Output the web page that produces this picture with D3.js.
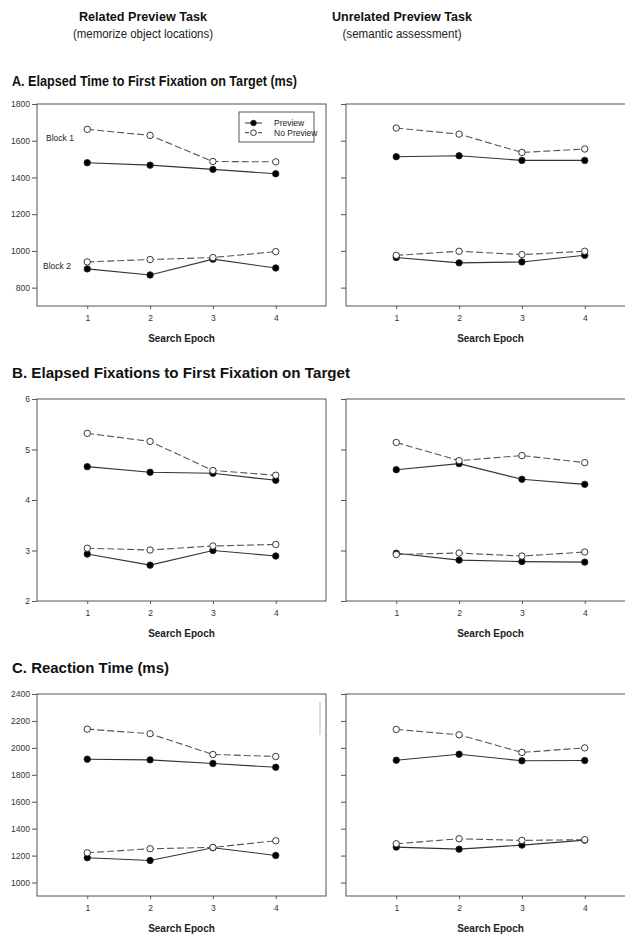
<!DOCTYPE html>
<html>
<head>
<meta charset="utf-8">
<script src="https://cdn.jsdelivr.net/npm/d3@7"></script>
<style>
  body { margin: 0; background: #fff; }
  svg { display: block; font-family: "Liberation Sans", Arial, sans-serif; }
</style>
</head>
<body>
<svg width="625" height="938"></svg>
<script>
const epochs = [1, 2, 3, 4];
const epochTicks = ["1", "2", "3", "4"];

const timeTicks = [800, 1000, 1200, 1400, 1600, 1800];
const fixTicks = [2, 3, 4, 5, 6];
const rtTicks = [1000, 1200, 1400, 1600, 1800, 2000, 2200, 2400];

// A. elapsed time to first fixation (ms)
const timeRelatedPreview1 = [1480, 1467, 1444, 1420];
const timeRelatedNoPreview1 = [1662, 1629, 1487, 1485];
const timeRelatedPreview2 = [902, 869, 955, 907];
const timeRelatedNoPreview2 = [940, 953, 964, 996];
const timeUnrelatedPreview1 = [1513, 1518, 1493, 1493];
const timeUnrelatedNoPreview1 = [1669, 1636, 1536, 1555];
const timeUnrelatedPreview2 = [964, 935, 940, 976];
const timeUnrelatedNoPreview2 = [976, 998, 980, 998];

// B. elapsed fixations
const fixRelatedPreview1 = [4.66, 4.55, 4.53, 4.39];
const fixRelatedNoPreview1 = [5.32, 5.16, 4.585, 4.49];
const fixRelatedPreview2 = [2.93, 2.71, 3.0, 2.89];
const fixRelatedNoPreview2 = [3.045, 3.01, 3.09, 3.12];
const fixUnrelatedPreview1 = [4.60, 4.72, 4.41, 4.31];
const fixUnrelatedNoPreview1 = [5.14, 4.78, 4.88, 4.74];
const fixUnrelatedPreview2 = [2.945, 2.81, 2.78, 2.77];
const fixUnrelatedNoPreview2 = [2.92, 2.95, 2.89, 2.97];

// C. reaction time (ms)
const rtRelatedPreview1 = [1916, 1911, 1884, 1856];
const rtRelatedNoPreview1 = [2139, 2105, 1951, 1936];
const rtRelatedPreview2 = [1184, 1164, 1258, 1201];
const rtRelatedNoPreview2 = [1221, 1251, 1261, 1310];
const rtUnrelatedPreview1 = [1908, 1953, 1904, 1906];
const rtUnrelatedNoPreview1 = [2137, 2097, 1966, 2000];
const rtUnrelatedPreview2 = [1263, 1248, 1278, 1315];
const rtUnrelatedNoPreview2 = [1288, 1325, 1313, 1318];

const svg = d3.select("svg");

const cols = [
  { left: 37, right: 326, labels: true },
  { left: 346, right: 635, labels: false }
];

const rows = [
  {
    title: "A. Elapsed Time to First Fixation on Target (ms)", titleWidth: 285, titleY: 86,
    top: 104, bottom: 306, domain: [700, 1800], ticks: timeTicks,
    series: [
      [timeRelatedPreview1, timeRelatedNoPreview1, timeRelatedPreview2, timeRelatedNoPreview2],
      [timeUnrelatedPreview1, timeUnrelatedNoPreview1, timeUnrelatedPreview2, timeUnrelatedNoPreview2]
    ]
  },
  {
    title: "B. Elapsed Fixations to First Fixation on Target", titleWidth: 338, titleY: 378,
    top: 399, bottom: 601, domain: [2, 6], ticks: fixTicks,
    series: [
      [fixRelatedPreview1, fixRelatedNoPreview1, fixRelatedPreview2, fixRelatedNoPreview2],
      [fixUnrelatedPreview1, fixUnrelatedNoPreview1, fixUnrelatedPreview2, fixUnrelatedNoPreview2]
    ]
  },
  {
    title: "C. Reaction Time (ms)", titleWidth: 157, titleY: 673,
    top: 694, bottom: 896, domain: [900, 2400], ticks: rtTicks,
    series: [
      [rtRelatedPreview1, rtRelatedNoPreview1, rtRelatedPreview2, rtRelatedNoPreview2],
      [rtUnrelatedPreview1, rtUnrelatedNoPreview1, rtUnrelatedPreview2, rtUnrelatedNoPreview2]
    ]
  }
];

// column headers
const headers = [
  { x: 143, title: "Related Preview Task", tw: 128, sub: "(memorize object locations)", sw: 140 },
  { x: 402, title: "Unrelated Preview Task", tw: 140, sub: "(semantic assessment)", sw: 119 }
];
headers.forEach((h) => {
  svg.append("text")
    .attr("x", h.x).attr("y", 21)
    .attr("text-anchor", "middle")
    .attr("font-size", 13.5).attr("font-weight", "bold").attr("fill", "#111")
    .attr("textLength", h.tw).attr("lengthAdjust", "spacingAndGlyphs")
    .text(h.title);
  svg.append("text")
    .attr("x", h.x).attr("y", 38)
    .attr("text-anchor", "middle")
    .attr("font-size", 12.5).attr("fill", "#222")
    .attr("textLength", h.sw).attr("lengthAdjust", "spacingAndGlyphs")
    .text(h.sub);
});

const drawPanel = (row, col, data, isFirst) => {
  const x = d3.scaleLinear().domain([0.2, 4.8]).range([col.left, col.right]);
  const y = d3.scaleLinear().domain(row.domain).range([row.bottom, row.top]);
  const g = svg.append("g");

  // frame
  g.append("rect")
    .attr("x", col.left).attr("y", row.top)
    .attr("width", col.right - col.left).attr("height", row.bottom - row.top)
    .attr("fill", "none").attr("stroke", "#555").attr("stroke-width", 1);

  const yAxis = d3.axisLeft(y)
    .tickValues(row.ticks)
    .tickSize(5).tickPadding(2)
    .tickFormat(col.labels ? d3.format("d") : () => "");
  const yg = g.append("g")
    .attr("transform", `translate(${col.left},0)`)
    .call(yAxis);
  yg.select(".domain").remove();
  yg.selectAll("line").attr("stroke", "#555");
  yg.selectAll("text").attr("font-size", 8.5).attr("fill", "#333").attr("font-family", null);

  const xAxis = d3.axisBottom(x)
    .tickValues(epochs)
    .tickSize(3).tickPadding(6)
    .tickFormat((d, i) => epochTicks[i]);
  const xg = g.append("g")
    .attr("transform", `translate(0,${row.bottom})`)
    .call(xAxis);
  xg.select(".domain").remove();
  xg.selectAll("line").attr("stroke", "#555");
  xg.selectAll("text").attr("font-size", 8.5).attr("fill", "#333").attr("font-family", null);

  g.append("text")
    .attr("x", x(2.5)).attr("y", row.bottom + 35.5)
    .attr("text-anchor", "middle")
    .attr("font-size", 10).attr("font-weight", "bold").attr("fill", "#222")
    .text("Search Epoch");

  const line = d3.line()
    .x((d, i) => x(epochs[i]))
    .y((d) => y(d));

  const styles = [
    { dash: null, fill: "#000" },
    { dash: "7,3", fill: "#fff" }
  ];

  // block 1 then block 2; preview drawn under no preview
  [0, 2].forEach((start) => {
    [0, 1].forEach((k) => {
      const values = data[start + k];
      const st = styles[k];
      g.append("path")
        .datum(values)
        .attr("d", line)
        .attr("fill", "none")
        .attr("stroke", k === 0 ? "#333" : "#555")
        .attr("stroke-width", 1.1)
        .attr("stroke-dasharray", st.dash);
      g.selectAll(null)
        .data(values)
        .enter().append("circle")
        .attr("cx", (d, i) => x(epochs[i]))
        .attr("cy", (d) => y(d))
        .attr("r", 3.2)
        .attr("fill", st.fill)
        .attr("stroke", "#222")
        .attr("stroke-width", 0.9);
    });
  });

  if (isFirst) {
    g.append("text").attr("x", 46).attr("y", 141)
      .attr("font-size", 8.5).attr("fill", "#222").text("Block 1");
    g.append("text").attr("x", 43).attr("y", 269)
      .attr("font-size", 8.5).attr("fill", "#222").text("Block 2");

    const legend = g.append("g");
    legend.append("rect")
      .attr("x", 239).attr("y", 112).attr("width", 75).attr("height", 30)
      .attr("fill", "#fff").attr("stroke", "#444").attr("stroke-width", 0.9);
    const items = ["Preview", "No Preview"];
    items.forEach((name, k) => {
      const ly = 123 + k * 9.7;
      legend.append("line")
        .attr("x1", 245).attr("x2", 262).attr("y1", ly).attr("y2", ly)
        .attr("stroke", "#333").attr("stroke-dasharray", k === 0 ? null : "4,2.5");
      legend.append("circle")
        .attr("cx", 253.5).attr("cy", ly).attr("r", 2.8)
        .attr("fill", styles[k].fill).attr("stroke", "#222").attr("stroke-width", 0.9);
      legend.append("text")
        .attr("x", 274).attr("y", ly + 3)
        .attr("font-size", 8.5).attr("fill", "#222").text(name);
    });
  }
};

rows.forEach((row, r) => {
  svg.append("text")
    .attr("x", 12).attr("y", row.titleY)
    .attr("font-size", 14).attr("font-weight", "bold").attr("fill", "#111")
    .attr("textLength", row.titleWidth).attr("lengthAdjust", "spacingAndGlyphs")
    .text(row.title);
  cols.forEach((col, c) => {
    drawPanel(row, col, row.series[c], r === 0 && c === 0);
  });
});

// faint vertical stroke seen in the top right of the reaction time panel
svg.append("line")
  .attr("x1", 320).attr("x2", 320).attr("y1", 702).attr("y2", 735)
  .attr("stroke", "#d0d0d0").attr("stroke-width", 1.5);
</script>
</body>
</html>
